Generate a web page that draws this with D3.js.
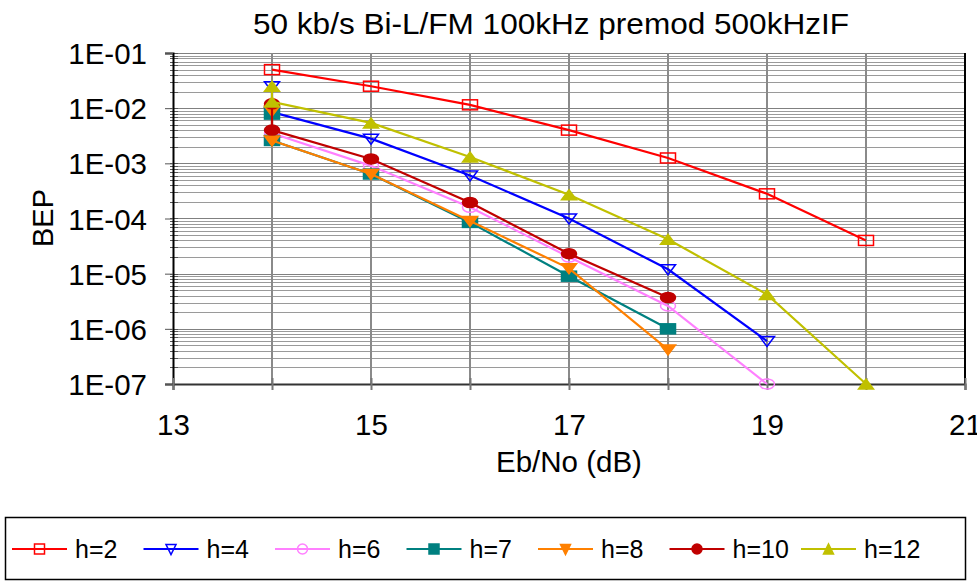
<!DOCTYPE html>
<html>
<head>
<meta charset="utf-8">
<script src="https://cdn.jsdelivr.net/npm/d3@7"></script>
<style>
  body { margin: 0; background: #fff; }
  text { font-family: "Liberation Sans", Arial, sans-serif; fill: #000; }
</style>
</head>
<body>
<div id="chart"></div>
<script>
// ---- data ----
const chartTitle = "50 kb/s Bi-L/FM 100kHz premod 500kHzIF";
const xLabel = "Eb/No (dB)";
const yLabel = "BEP";
const xTickLabels = [13, 15, 17, 19, 21];
const yTickValues = [1e-1, 1e-2, 1e-3, 1e-4, 1e-5, 1e-6, 1e-7];

const seriesNames = ["h=2", "h=4", "h=6", "h=7", "h=8", "h=10", "h=12"];

const h2X = [14, 15, 16, 17, 18, 19, 20];
const h2Y = [5e-2, 2.5e-2, 1.15e-2, 4e-3, 1.25e-3, 2.8e-4, 4e-5];
const h4X = [14, 14, 15, 16, 17, 18, 19];
const h4Y = [2.5e-2, 8.5e-3, 2.8e-3, 6e-4, 1e-4, 1.2e-5, 6e-7];
const h6X = [14, 15, 16, 17, 18, 19];
const h6Y = [3.5e-3, 9e-4, 1.6e-4, 2e-5, 2.6e-6, 1e-7];
const h7X = [14, 14, 15, 16, 17, 18];
const h7Y = [7.8e-3, 2.6e-3, 6.4e-4, 8.5e-5, 9e-6, 1e-6];
const h8X = [14, 14, 15, 16, 17, 18];
const h8Y = [9e-3, 2.6e-3, 6.4e-4, 9e-5, 1.25e-5, 4.2e-7];
const h10X = [14, 14, 15, 16, 17, 18];
const h10Y = [1.2e-2, 4e-3, 1.2e-3, 1.95e-4, 2.3e-5, 3.7e-6];
const h12X = [14, 14, 15, 16, 17, 18, 19, 20];
const h12Y = [2.5e-2, 1.3e-2, 5.4e-3, 1.3e-3, 2.7e-4, 4.2e-5, 4.2e-6, 1e-7];

const seriesX = [h2X, h4X, h6X, h7X, h8X, h10X, h12X];
const seriesY = [h2Y, h4Y, h6Y, h7Y, h8Y, h10Y, h12Y];

// look of each series (marker shape + colour)
const seriesStyle = [
  { color: "#ff0000", shape: "square", fill: false },
  { color: "#0000ff", shape: "down", fill: false },
  { color: "#ff80ff", shape: "circle", fill: false },
  { color: "#008080", shape: "square", fill: true },
  { color: "#ff8000", shape: "down", fill: true },
  { color: "#c00000", shape: "circle", fill: true },
  { color: "#c0c000", shape: "up", fill: true }
];

const series = seriesNames.map((name, i) => ({
  name,
  style: seriesStyle[i],
  values: seriesX[i].map((x, j) => ({ x, y: seriesY[i][j] }))
}));

// ---- layout ----
const width = 977, height = 581;
const plot = { left: 173, right: 965, top: 53, bottom: 384 };
const font = "'Liberation Sans', Arial, sans-serif";

const svg = d3.select("#chart").append("svg")
  .attr("width", width)
  .attr("height", height);

const xScale = d3.scaleLinear().domain([13, 21]).range([plot.left, plot.right]);
const yScale = d3.scaleLog().domain([1e-7, 1e-1]).range([plot.bottom, plot.top]);

// minor + major horizontal grid
const yMinor = yScale.ticks();
svg.append("g").attr("class", "y-grid")
  .selectAll("line")
  .data(yMinor)
  .join("line")
  .attr("x1", plot.left).attr("x2", plot.right)
  .attr("y1", d => Math.round(yScale(d)) + 0.5)
  .attr("y2", d => Math.round(yScale(d)) + 0.5)
  .attr("stroke", d => yTickValues.some(v => Math.abs(v - d) / v < 1e-6) ? "#808080" : "#9a9a9a")
  .attr("stroke-width", 1);

// vertical grid every 1 dB
const xGrid = d3.range(14, 21);
svg.append("g").attr("class", "x-grid")
  .selectAll("line")
  .data(xGrid)
  .join("line")
  .attr("x1", d => xScale(d)).attr("x2", d => xScale(d))
  .attr("y1", plot.top).attr("y2", plot.bottom)
  .attr("stroke", "#8a8a8a")
  .attr("stroke-width", 2);

// right border
svg.append("line")
  .attr("x1", plot.right).attr("x2", plot.right)
  .attr("y1", plot.top).attr("y2", plot.bottom)
  .attr("stroke", "#000").attr("stroke-width", 2);

// y minor ticks (inside the axis)
svg.append("g").selectAll("line")
  .data(yMinor)
  .join("line")
  .attr("x1", plot.left - 3).attr("x2", plot.left + 5)
  .attr("y1", d => Math.round(yScale(d)) + 0.5)
  .attr("y2", d => Math.round(yScale(d)) + 0.5)
  .attr("stroke", "#555");

// y axis
const yAxis = d3.axisLeft(yScale)
  .tickValues(yTickValues)
  .tickSize(8)
  .tickPadding(18)
  .tickFormat(d => "1E-" + String(Math.round(-Math.log10(d))).padStart(2, "0"));

svg.append("g")
  .attr("class", "y-axis")
  .attr("transform", `translate(${plot.left},0)`)
  .call(yAxis)
  .call(g => g.select(".domain").attr("stroke", "#000").attr("stroke-width", 2))
  .call(g => g.selectAll(".tick line").attr("stroke", "#555"))
  .call(g => g.selectAll(".tick text")
    .style("font-size", "29.5px")
    .style("font-family", font)
    .attr("dy", "0.36em"));

// x axis
const xAxis = d3.axisBottom(xScale)
  .tickValues(d3.range(13, 22))
  .tickSize(6)
  .tickPadding(24)
  .tickFormat(d => xTickLabels.includes(d) ? d : "");

svg.append("g")
  .attr("class", "x-axis")
  .attr("transform", `translate(0,${plot.bottom})`)
  .call(xAxis)
  .call(g => g.select(".domain").attr("stroke", "#333").attr("stroke-width", 2))
  .call(g => g.selectAll(".tick line").attr("stroke", "#777").attr("stroke-width", 2).attr("y1", -6))
  .call(g => g.selectAll(".tick text")
    .style("font-size", "29.5px")
    .style("font-family", font));

// titles
svg.append("text")
  .attr("x", 551).attr("y", 34)
  .attr("text-anchor", "middle")
  .attr("textLength", 596)
  .attr("lengthAdjust", "spacingAndGlyphs")
  .style("font-size", "29px")
  .text(chartTitle);

svg.append("text")
  .attr("x", 569).attr("y", 472)
  .attr("text-anchor", "middle")
  .style("font-size", "29.5px")
  .text(xLabel);

svg.append("text")
  .attr("transform", "translate(53,218) rotate(-90)")
  .attr("text-anchor", "middle")
  .style("font-size", "29px")
  .text(yLabel);

// marker helper
function marker(sel, style, w, h) {
  const c = style.color;
  const fill = style.fill ? c : "none";
  if (style.shape === "square") {
    sel.append("rect")
      .attr("x", -w / 2).attr("y", -h / 2)
      .attr("width", w).attr("height", h)
      .attr("fill", fill).attr("stroke", c).attr("stroke-width", 1.5);
  } else if (style.shape === "circle") {
    sel.append("ellipse")
      .attr("rx", w / 2).attr("ry", h / 2)
      .attr("fill", fill).attr("stroke", c).attr("stroke-width", 1.5);
  } else if (style.shape === "down") {
    sel.append("path")
      .attr("d", `M${-w / 2},${-h * 0.45}L${w / 2},${-h * 0.45}L0,${h * 0.55}Z`)
      .attr("fill", fill).attr("stroke", c).attr("stroke-width", 1.5);
  } else {
    sel.append("path")
      .attr("d", `M${-w / 2},${h * 0.5}L${w / 2},${h * 0.5}L0,${-h * 0.5}Z`)
      .attr("fill", fill).attr("stroke", c).attr("stroke-width", 1.5);
  }
}

const line = d3.line()
  .x(d => xScale(d.x))
  .y(d => yScale(d.y));

const seriesG = svg.append("g").attr("class", "series")
  .selectAll("g")
  .data(series)
  .join("g");

seriesG.append("path")
  .attr("d", d => line(d.values))
  .attr("fill", "none")
  .attr("stroke", d => d.style.color)
  .attr("stroke-width", 2.2);

seriesG.each(function (s) {
  d3.select(this).selectAll("g.pt")
    .data(s.values)
    .join("g")
    .attr("class", "pt")
    .attr("transform", d => `translate(${xScale(d.x)},${yScale(d.y)})`)
    .each(function () { marker(d3.select(this), s.style, 15, 10); });
});

// legend
const legend = svg.append("g").attr("class", "legend");
legend.append("rect")
  .attr("x", 5.5).attr("y", 517.5)
  .attr("width", 960).attr("height", 62)
  .attr("fill", "#fff").attr("stroke", "#000").attr("stroke-width", 1.5);

const legendStep = 131.5;
const legendItems = legend.selectAll("g.item")
  .data(series)
  .join("g")
  .attr("class", "item")
  .attr("transform", (d, i) => `translate(${12 + i * legendStep},549)`);

legendItems.append("line")
  .attr("x1", 0).attr("x2", 55)
  .attr("stroke", d => d.style.color)
  .attr("stroke-width", 2);

legendItems.each(function (s) {
  const g = d3.select(this).append("g").attr("transform", "translate(27.5,0)");
  marker(g, s.style, 10, 10);
});

legendItems.append("text")
  .attr("x", 63).attr("y", 9)
  .style("font-size", "25px")
  .text(d => d.name);
</script>
</body>
</html>
